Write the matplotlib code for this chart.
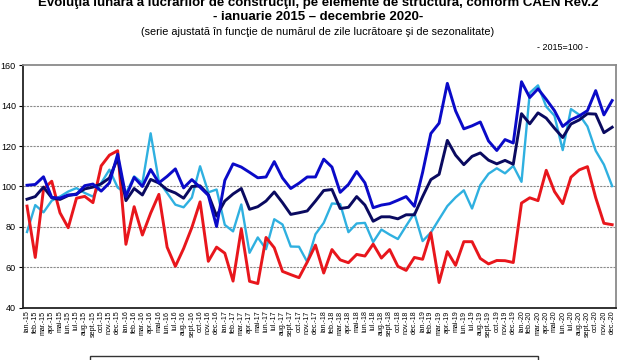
import numpy as np
import matplotlib.pyplot as plt
from matplotlib.patches import Rectangle

plt.rcParams['font.family'] = ['Liberation Sans', 'DejaVu Sans']

months = ["ian.", "feb.", "mar.", "apr.", "mai", "iun.", "iul.", "aug.", "sept.", "oct.", "nov.", "dec."]
years = ["15", "16", "17", "18", "19", "20"]
labels = [m + "-" + y for y in years for m in months]

# darkest line
navy = [93.7, 95, 99.7, 94.4, 93.6, 95.5, 96.3, 98.8, 99.7, 101.3, 104.2, 114,
        93, 99, 95.8, 103.5, 101.7, 98.4, 96.8, 94.2, 100, 100.3, 96, 85.4,
        92.8, 96.3, 99, 88.7, 90, 92.8, 97.3, 92, 86.2, 87, 87.9, 92.8,
        98, 98.5, 89.1, 89.7, 95, 90.8, 82.8, 85, 85, 84, 86, 86,
        95, 103.4, 106, 122.8, 115.5, 110.8, 114.9, 116.6, 113, 111.2, 112.9, 111,
        136, 131, 136.4, 133.8, 128.8, 124.2, 130.9, 132.9, 136, 135.8, 126.6, 129.3]
blue = [100.6, 101, 104.8, 94.6, 94.2, 95.8, 96, 100.4, 101.2, 97.7, 101.8, 116,
        95, 104.5, 100, 108.4, 101.8, 105, 108.7, 99.3, 103.4, 99.6, 95.6, 80.2,
        103, 111.2, 109.6, 107, 104.3, 104.7, 112.3, 104.2, 99, 101.6, 104.7, 104.7,
        113.5, 109.6, 97.1, 101, 107.4, 101.8, 89.5, 90.8, 91.5, 93.2, 95, 90.2,
        107, 126.2, 131.3, 151, 137.4, 128.5, 130, 131.9, 122.5, 117.8, 123.2, 121.5,
        151.8, 144, 148.3, 143.1, 137.5, 129.7, 133, 134.9, 137.5, 147.4, 135.4, 142.5]
light = [77.5, 90.8, 87.2, 93, 95, 97.5, 99.2, 96.8, 95, 101.7, 108.3, 99.5,
         96.5, 105, 101.7, 126.3, 102.5, 96.8, 91, 89.7, 94.5, 110, 97.1, 98.5,
         81, 77.8, 91.1, 67.2, 74.8, 69, 83.8, 81.2, 70.3, 70.2, 62.7, 76.4,
         82, 91.6, 91.3, 77.4, 81.7, 82, 72.5, 78.7, 76.2, 74, 80.5, 86.8,
         73, 77.2, 83.8, 90.3, 94.6, 98.1, 89.1, 100.7, 106.3, 109, 106.5, 110.2,
         102.3, 146.3, 150, 139.5, 135, 118, 138.3, 135.5, 129.7, 117.7, 110.8, 100.2]
red = [90.3, 64.9, 98.7, 102.6, 87, 79.6, 94.2, 95.1, 92, 110.2, 115.5, 117.7,
       71.4, 90, 76, 86.8, 96.1, 70, 60.5, 69.3, 79.7, 92.4, 63, 70,
       67, 53.2, 79, 53.1, 52, 74.8, 69.7, 58, 56.4, 54.9, 62.6, 71,
       57.2, 68.8, 63.7, 62.3, 66.4, 65.6, 71.5, 64.6, 68.8, 60.5, 58.5, 64.9,
       64, 77.1, 52.5, 67.8, 61, 72.7, 72.7, 64.4, 61.7, 63.4, 63.3, 62.4,
       91.8, 94.4, 93, 108, 97.5, 91.5, 104.6, 108.2, 109.8, 94.5, 81.8, 81.1]

fig = plt.figure(figsize=(6.36, 3.6), dpi=100)
ax = fig.add_axes([0.036, 0.145, 0.933, 0.674])

x = np.arange(len(labels))
ax.plot(x, light, color='#2fb0e0', lw=1.7, zorder=3)
ax.plot(x, red, color='#e8161c', lw=2.1, zorder=4)
ax.plot(x, navy, color='#0a0a60', lw=2.1, zorder=5)
ax.plot(x, blue, color='#0a0ac8', lw=2.1, zorder=6)

ax.set_xlim(-0.5, len(labels) - 0.5)
ax.set_ylim(40, 160)
ax.set_yticks(range(40, 161, 20))
for v in range(60, 160, 20):
    ax.axhline(v, color='#8a8a8a', lw=0.8, ls=(0, (2, 1)), zorder=1)

ax.set_xticks(x)
ax.set_xticklabels(labels, rotation=90, fontsize=5.1)
ax.tick_params(axis='x', length=0, pad=2)
ax.tick_params(axis='y', labelsize=6.5, length=3, width=0.8, pad=2)

for s in ['left', 'bottom']:
    ax.spines[s].set_color('#222222')
    ax.spines[s].set_linewidth(1.3)
for s in ['top', 'right']:
    ax.spines[s].set_color('#8a8a8a')
    ax.spines[s].set_linewidth(1.3)

# first title line is cut by the top edge, as in the source
fig.text(0.5, 0.993, "Evoluţia lunară a lucrărilor de construcţii, pe elemente de structură, conform CAEN Rev.2",
         ha='center', va='center', fontsize=9.5, fontweight='bold')
fig.text(0.5, 0.953, "- ianuarie 2015 – decembrie 2020-", ha='center', va='center',
         fontsize=9.5, fontweight='bold')
fig.text(0.5, 0.912, "(serie ajustată în funcţie de numărul de zile lucrătoare şi de sezonalitate)",
         ha='center', va='center', fontsize=7.8)
fig.text(0.885, 0.868, "- 2015=100 -", ha='center', va='center', fontsize=6.5)

fig.patches.append(Rectangle((90 / 636, -0.05), 448 / 636, 0.061, transform=fig.transFigure,
                             fill=False, edgecolor='#333333', lw=1.0))

fig.savefig('out.png', dpi=100)
